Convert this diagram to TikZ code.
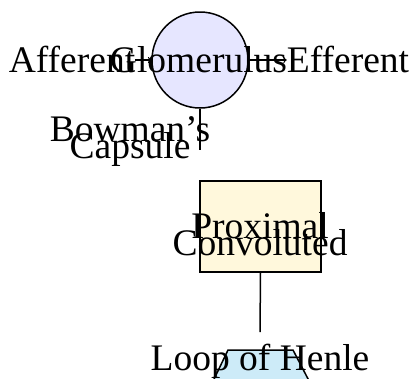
\documentclass[tikz,border=0pt]{standalone}
\usepackage{fontspec}
\setmainfont{Liberation Serif}
\definecolor{glomfill}{HTML}{E6E6FF}
\definecolor{pctfill}{HTML}{FFF8DC}
\definecolor{loopfill}{HTML}{CDEBF8}
\newcommand\mytightlines{\lineskiplimit=-100pt\relax\lineskip=0pt\relax}
\begin{document}
\begin{tikzpicture}[x=1pt,y=-1pt,
  lbl/.style={font=\fontsize{37.5}{16.5}\selectfont\mytightlines, inner sep=0pt, align=center},
  shapeline/.style={draw, line width=1.5pt},
  conn/.style={line width=1.5pt},
  arr/.style={line width=1.2pt,->}]
\useasboundingbox (0,0) rectangle (412,378);
% shapes
\node[circle, shapeline, fill=glomfill, minimum size=96pt, inner sep=0pt] (glom) at (200,60) {};
\node[shapeline, fill=pctfill, minimum width=121pt, minimum height=91pt, inner sep=0pt] (pct) at (260.5,226.5) {};
\filldraw[line width=1.5pt, fill=loopfill] (204,400) -- (228,350) -- (293,350) -- (319,400);
% texts
\node[lbl, anchor=base] (glomtext) at (198.5,72) {Glomerulus};
\node[lbl, anchor=base] (aff) at (72,72) {Afferent};
\node[lbl, anchor=base] (eff) at (348,72) {Efferent};
\node[lbl, anchor=base] (bow) at (130,158) {Bowman's\\Capsule};
\node[lbl, anchor=base] (pcttext) at (260,255) {Proximal\\Convoluted};
\node[lbl, anchor=base] (loop) at (260,370) {Loop of Henle};
\coordinate (bowend) at (200,150);
\coordinate (loopend) at (260,332);
% connectors
\draw[arr] (glom.west -| aff.east) -- (glom.west);
\draw[arr] (glom.east) -- (glom.east -| eff.west);
\draw[conn] (glom.south) -- (bowend);
\draw[conn] (pct.south) -- (loopend);
\end{tikzpicture}
\end{document}
